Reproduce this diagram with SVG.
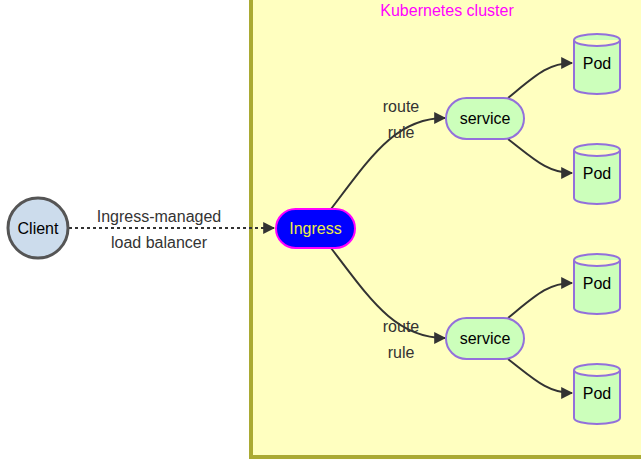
<svg xmlns="http://www.w3.org/2000/svg" width="641" height="462" viewBox="0 0 641 462">
<style>
text{font-family:"Liberation Sans",Arial,sans-serif;font-size:16px;text-anchor:middle;dominant-baseline:central}
.lbl{fill:#333}
.edge{fill:none;stroke:#333;stroke-width:2}
.svc rect{fill:#ccffbb;stroke:#9370db;stroke-width:2}
.pod path{fill:#ccffbb;stroke:#9370db;stroke-width:2}
.pod text,.svc text,#client text{fill:#000}
</style>
<defs>
<marker id="arr" viewBox="0 0 10 10" refX="9" refY="5" markerWidth="6" markerHeight="6" orient="auto" markerUnits="strokeWidth">
<path d="M0,0L10,5L0,10z" fill="#333"/>
</marker>
</defs>
<rect x="0" y="0" width="641" height="462" fill="#fff"/>
<g id="cluster">
<rect x="251" y="-4" width="400" height="461" fill="#ffffc0" stroke="#aaaa33" stroke-width="4"/>
<text x="447" y="10" fill="#ff00ff">Kubernetes cluster</text>
</g>
<g id="edges">
<path class="edge" d="M69,228L274,228" stroke-dasharray="3,3" marker-end="url(#arr)"/>
<path class="edge" d="M331,209C370,158 395,118 445,118" marker-end="url(#arr)"/>
<path class="edge" d="M331,248C370,299 395,338 445,338" marker-end="url(#arr)"/>
<path class="edge" d="M508,98C535,76 548,63 572,63" marker-end="url(#arr)"/>
<path class="edge" d="M508,139C535,160 548,173 572,173" marker-end="url(#arr)"/>
<path class="edge" d="M508,318C535,296 548,283 572,283" marker-end="url(#arr)"/>
<path class="edge" d="M508,359C535,380 548,393 572,393" marker-end="url(#arr)"/>
<text class="lbl" x="159" y="216">Ingress-managed</text>
<text class="lbl" x="159" y="242">load balancer</text>
<text class="lbl" x="401" y="106">route</text>
<text class="lbl" x="401" y="132">rule</text>
<text class="lbl" x="401" y="326">route</text>
<text class="lbl" x="401" y="352">rule</text>
</g>
<g id="client">
<circle cx="38" cy="228" r="30" fill="#ccdcec" stroke="#555" stroke-width="3"/>
<text x="38" y="228">Client</text>
</g>
<g id="ingress">
<rect x="276" y="209" width="79" height="39" rx="19.5" fill="#0000ff" stroke="#ff00ff" stroke-width="2"/>
<text x="315.5" y="228.5" fill="#eeee44">Ingress</text>
</g>
<g id="service1" class="svc">
<rect x="446" y="98" width="78" height="41" rx="20.5"/>
<text x="485" y="118.5">service</text>
</g>
<g id="service2" class="svc">
<rect x="446" y="318" width="78" height="41" rx="20.5"/>
<text x="485" y="338.5">service</text>
</g>
<g id="pod1" class="pod">
<path d="M574,40a23,6 0 0 1 46,0v48a23,6 0 0 1 -46,0z M574,40a23,6 0 0 0 46,0"/>
<text x="597" y="63">Pod</text>
</g>
<g id="pod2" class="pod">
<path d="M574,150a23,6 0 0 1 46,0v48a23,6 0 0 1 -46,0z M574,150a23,6 0 0 0 46,0"/>
<text x="597" y="173">Pod</text>
</g>
<g id="pod3" class="pod">
<path d="M574,260a23,6 0 0 1 46,0v48a23,6 0 0 1 -46,0z M574,260a23,6 0 0 0 46,0"/>
<text x="597" y="283">Pod</text>
</g>
<g id="pod4" class="pod">
<path d="M574,370a23,6 0 0 1 46,0v48a23,6 0 0 1 -46,0z M574,370a23,6 0 0 0 46,0"/>
<text x="597" y="393">Pod</text>
</g>
</svg>
